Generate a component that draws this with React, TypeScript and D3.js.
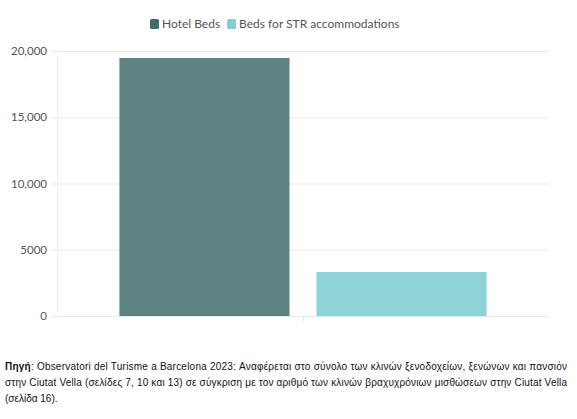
import { useEffect, useRef } from "react"
import * as d3 from "d3"

const categories = ["Ciutat Vella"]
const seriesNames = ["Hotel Beds", "Beds for STR accommodations"]
const seriesValues = [[19470], [3320]]
const yTicks = [0, 5000, 10000, 15000, 20000]
const yTickLabels = ["0", "5000", "10,000", "15,000", "20,000"]
const barColors = ["#5b8483", "#8dd3d7"]
const swatchColors = ["#3f6d6c", "#86cdd3"]

const captionBold = "Πηγή"
const captionLines = [
  ": Observatori del Turisme a Barcelona 2023: Αναφέρεται στο σύνολο των κλινών ξενοδοχείων, ξενώνων και πανσιόν",
  "στην Ciutat Vella (σελίδες 7, 10 και 13) σε σύγκριση με τον αριθμό των κλινών βραχυχρόνιων μισθώσεων στην Ciutat Vella",
  "(σελίδα 16).",
]

export default function App() {
  const svgRef = useRef<SVGSVGElement>(null)
  const width = 577
  const height = 419

  useEffect(() => {
    document.body.style.margin = "0"
    if (!svgRef.current) return
    d3.select(svgRef.current).selectAll("*").remove()

    const margin = { top: 51, right: 28, bottom: 103, left: 57 }
    const svg = d3.select(svgRef.current).attr("width", width).attr("height", height)

    const x0 = d3
      .scaleBand<string>()
      .domain(categories)
      .range([margin.left, width - margin.right])
      .paddingInner(0)
      .paddingOuter(0.17)

    const x1 = d3
      .scaleBand<string>()
      .domain(seriesNames)
      .range([0, x0.bandwidth()])
      .paddingInner(0.137)

    const y = d3
      .scaleLinear()
      .domain([0, 20000])
      .range([height - margin.bottom, margin.top])

    // grid lines
    svg
      .append("g")
      .selectAll("line")
      .data(yTicks)
      .enter()
      .append("line")
      .attr("x1", margin.left - 5)
      .attr("x2", width - margin.right)
      .attr("y1", (d) => y(d) + 0.5)
      .attr("y2", (d) => y(d) + 0.5)
      .attr("stroke", "#ebebeb")
      .attr("stroke-width", 1)

    // left axis line
    svg
      .append("line")
      .attr("x1", margin.left + 0.5)
      .attr("x2", margin.left + 0.5)
      .attr("y1", margin.top)
      .attr("y2", y(0))
      .attr("stroke", "#f0f0f0")

    // category tick at bottom
    svg
      .append("line")
      .attr("x1", (x0(categories[0]) ?? 0) + x0.bandwidth() / 2 + 0.5)
      .attr("x2", (x0(categories[0]) ?? 0) + x0.bandwidth() / 2 + 0.5)
      .attr("y1", y(0))
      .attr("y2", y(0) + 5)
      .attr("stroke", "#e6e6e6")

    // y tick labels
    svg
      .append("g")
      .selectAll("text")
      .data(yTicks)
      .enter()
      .append("text")
      .attr("x", margin.left - 10)
      .attr("y", (d) => y(d))
      .attr("dy", "0.35em")
      .attr("text-anchor", "end")
      .attr("fill", "#555")
      .style("font-family", "Lato, sans-serif")
      .style("font-size", "11.5px")
      .text((d, i) => yTickLabels[i])

    // bars
    const groups = svg
      .append("g")
      .selectAll("g")
      .data(categories)
      .enter()
      .append("g")
      .attr("transform", (d) => `translate(${x0(d)},0)`)

    groups
      .selectAll("rect")
      .data((d, ci) => seriesNames.map((s, si) => ({ s, si, v: seriesValues[si][ci] })))
      .enter()
      .append("rect")
      .attr("x", (d) => x1(d.s) ?? 0)
      .attr("width", x1.bandwidth())
      .attr("y", (d) => y(d.v))
      .attr("height", (d) => y(0) - y(d.v))
      .attr("fill", (d) => barColors[d.si])

    // legend
    const legend = svg.append("g").attr("transform", "translate(150, 24)")
    let offset = 0
    seriesNames.forEach((name, i) => {
      const g = legend.append("g").attr("transform", `translate(${offset},0)`)
      g.append("rect")
        .attr("x", 0)
        .attr("y", -5)
        .attr("width", 9)
        .attr("height", 10)
        .attr("rx", 1.5)
        .attr("fill", swatchColors[i])
      const t = g
        .append("text")
        .attr("x", 12)
        .attr("y", 0)
        .attr("dy", "0.35em")
        .attr("fill", "#555")
        .style("font-family", "Lato, sans-serif")
        .style("font-size", "12px")
        .text(name)
      const w = (t.node() as SVGTextElement).getComputedTextLength()
      offset += 12 + w + 7
    })

    // caption
    const cap = svg
      .append("g")
      .style("font-family", "'Liberation Sans', Arial, sans-serif")
      .style("font-size", "10px")
      .attr("fill", "#111")
    captionLines.forEach((line, i) => {
      const t = cap
        .append("text")
        .attr("x", 5)
        .attr("y", 370 + i * 16)
      if (i < 2) t.attr("textLength", 562).attr("lengthAdjust", "spacing")
      if (i === 0) {
        t.append("tspan").attr("font-weight", "bold").text(captionBold)
      }
      t.append("tspan").text(line)
    })
  }, [])

  return (
    <div style={{ width, height }}>
      <svg ref={svgRef} />
    </div>
  )
}
